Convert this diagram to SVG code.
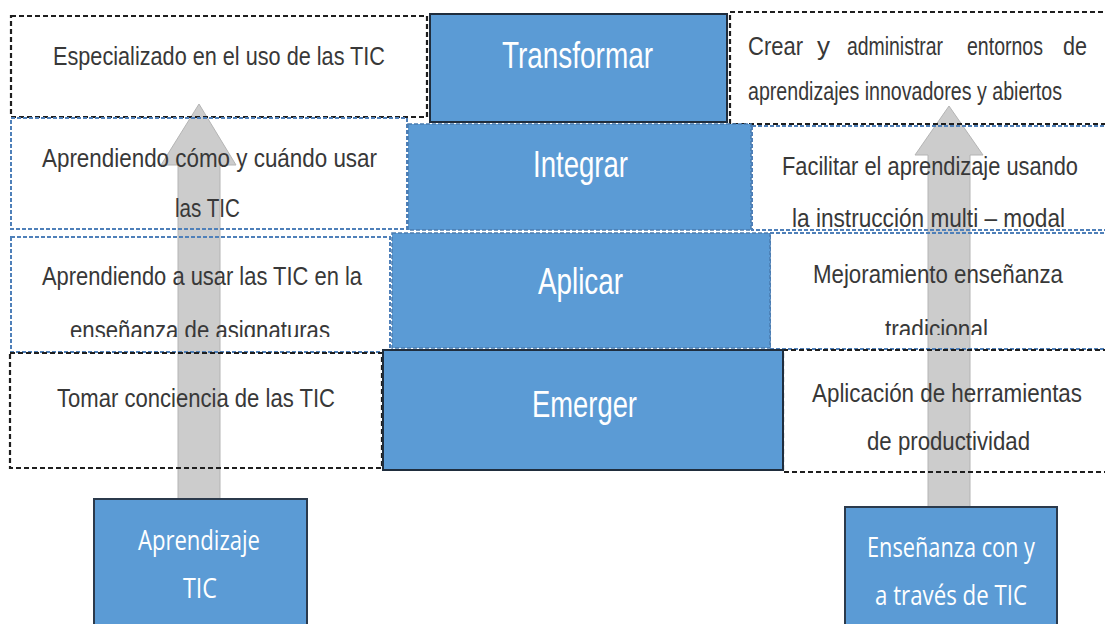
<svg xmlns="http://www.w3.org/2000/svg" width="1105" height="624" viewBox="0 0 1105 624">
<style>
.wb{fill:#fff}
.bk{fill:none;stroke:#1e1e1e;stroke-width:2.2;stroke-dasharray:5 3}
.bl{fill:none;stroke:#4f80b9;stroke-width:2;stroke-dasharray:4 2}
.cs{fill:#5b9bd5;stroke:#1f2d3d;stroke-width:2}
.cd{fill:#5b9bd5;stroke:#4a7cb0;stroke-width:1.5;stroke-dasharray:4 2}
.bt{fill:#5b9bd5;stroke:#2b3a4c;stroke-width:2}
.t{font-family:"Liberation Sans",Arial,sans-serif;font-size:25px;fill:#383838}
.c{font-family:"Liberation Sans",Arial,sans-serif;font-size:37px;fill:#fff}
.b{font-family:"Open Sans","Liberation Sans",sans-serif;font-size:27px;fill:#fff}
.arr{fill:#c4c4c4;stroke:#a8a8a8;stroke-width:1;opacity:0.85}
</style>
<defs>
<clipPath id="clipL3"><rect x="10" y="237" width="382" height="100"/></clipPath>
<clipPath id="clipR2"><rect x="752" y="124" width="360" height="104"/></clipPath>
<clipPath id="clipR3"><rect x="770" y="233" width="340" height="102"/></clipPath>
</defs>
<rect width="1105" height="624" fill="#fff"/>

<!-- left column boxes -->
<g id="left-box-1"><rect class="wb" x="11" y="16" width="416" height="101"/></g>
<g id="left-box-2"><rect class="wb" x="11" y="118" width="396" height="111"/></g>
<g id="left-box-3"><rect class="wb" x="11" y="237" width="379" height="115"/></g>
<g id="left-box-4"><rect class="wb" x="10" y="353" width="372" height="115"/></g>
<!-- right column boxes -->
<g id="right-box-1"><rect class="wb" x="730" y="12" width="380" height="112"/></g>
<g id="right-box-2"><rect class="wb" x="752" y="126" width="360" height="104"/></g>
<g id="right-box-3"><rect class="wb" x="770" y="233" width="340" height="116"/></g>
<g id="right-box-4"><rect class="wb" x="783" y="350" width="330" height="122"/></g>

<!-- connectors (arrows) -->
<g id="connectors">
<polygon class="arr" points="199,104 236,165 220,165 220,499 178,499 178,165 161,165"/>
<polygon class="arr" points="949,106 983,155 970,155 970,507 928,507 928,155 915,155"/>
</g>

<!-- borders of column boxes -->
<rect class="bk" x="11" y="16" width="416" height="101"/>
<rect class="bl" x="11" y="118" width="396" height="111"/>
<rect class="bl" x="11" y="237" width="379" height="115"/>
<rect class="bk" x="10" y="353" width="372" height="115"/>
<rect class="bk" x="730" y="12" width="380" height="112"/>
<rect class="bl" x="752" y="126" width="360" height="104"/>
<rect class="bl" x="770" y="233" width="340" height="116"/>
<rect class="bk" x="783" y="350" width="330" height="122"/>

<!-- column texts -->
<g id="left-text-1"><text class="t" x="53" y="65" textLength="332" lengthAdjust="spacingAndGlyphs">Especializado en el uso de las TIC</text></g>
<g id="left-text-2">
<text class="t" x="42" y="167" textLength="335" lengthAdjust="spacingAndGlyphs">Aprendiendo cómo y cuándo usar</text>
<text class="t" x="175" y="217" textLength="65" lengthAdjust="spacingAndGlyphs">las TIC</text>
</g>
<g id="left-text-3">
<text class="t" x="42" y="285" textLength="320" lengthAdjust="spacingAndGlyphs">Aprendiendo a usar las TIC en la</text>
<text class="t" x="70" y="339" textLength="260" lengthAdjust="spacingAndGlyphs" clip-path="url(#clipL3)">enseñanza de asignaturas</text>
</g>
<g id="left-text-4"><text class="t" x="57" y="407" textLength="278" lengthAdjust="spacingAndGlyphs">Tomar conciencia de las TIC</text></g>

<g id="right-text-1">
<text class="t" x="748" y="55" textLength="55" lengthAdjust="spacingAndGlyphs">Crear</text>
<text class="t" x="817" y="55" textLength="13" lengthAdjust="spacingAndGlyphs">y</text>
<text class="t" x="847" y="55" textLength="96" lengthAdjust="spacingAndGlyphs">administrar</text>
<text class="t" x="967" y="55" textLength="76" lengthAdjust="spacingAndGlyphs">entornos</text>
<text class="t" x="1063" y="55" textLength="24" lengthAdjust="spacingAndGlyphs">de</text>
<text class="t" x="748" y="100" textLength="314" lengthAdjust="spacingAndGlyphs">aprendizajes innovadores y abiertos</text>
</g>
<g id="right-text-2">
<text class="t" x="782" y="175" textLength="296" lengthAdjust="spacingAndGlyphs">Facilitar el aprendizaje usando</text>
<text class="t" x="792" y="227" textLength="273" lengthAdjust="spacingAndGlyphs" clip-path="url(#clipR2)">la instrucción multi – modal</text>
</g>
<g id="right-text-3">
<text class="t" x="813" y="283" textLength="250" lengthAdjust="spacingAndGlyphs">Mejoramiento enseñanza</text>
<text class="t" x="885" y="338" textLength="103" lengthAdjust="spacingAndGlyphs" clip-path="url(#clipR3)">tradicional</text>
</g>
<g id="right-text-4">
<text class="t" x="812" y="402" textLength="270" lengthAdjust="spacingAndGlyphs">Aplicación de herramientas</text>
<text class="t" x="867" y="450" textLength="163" lengthAdjust="spacingAndGlyphs">de productividad</text>
</g>

<!-- central pyramid -->
<g id="transformar"><rect class="cs" x="430" y="14" width="297" height="108"/><text class="c" x="502" y="68" textLength="151" lengthAdjust="spacingAndGlyphs">Transformar</text></g>
<g id="integrar"><rect class="cd" x="408" y="124" width="343" height="106"/><text class="c" x="533" y="177" textLength="95" lengthAdjust="spacingAndGlyphs">Integrar</text></g>
<g id="aplicar"><rect class="cd" x="392" y="233" width="378" height="115"/><text class="c" x="538" y="294" textLength="85" lengthAdjust="spacingAndGlyphs">Aplicar</text></g>
<g id="emerger"><rect class="cs" x="383" y="350" width="400" height="120"/><text class="c" x="532" y="417" textLength="105" lengthAdjust="spacingAndGlyphs">Emerger</text></g>

<!-- bottom boxes -->
<g id="aprendizaje-tic"><rect class="bt" x="94" y="499" width="213" height="135"/>
<text class="b" x="138" y="550" textLength="122" lengthAdjust="spacingAndGlyphs">Aprendizaje</text>
<text class="b" x="183" y="598" textLength="34" lengthAdjust="spacingAndGlyphs">TIC</text></g>
<g id="ensenanza-tic"><rect class="bt" x="845" y="507" width="212" height="127"/>
<text class="b" x="867" y="557" textLength="168" lengthAdjust="spacingAndGlyphs">Enseñanza con y</text>
<text class="b" x="875" y="605" textLength="152" lengthAdjust="spacingAndGlyphs">a través de TIC</text></g>
</svg>
